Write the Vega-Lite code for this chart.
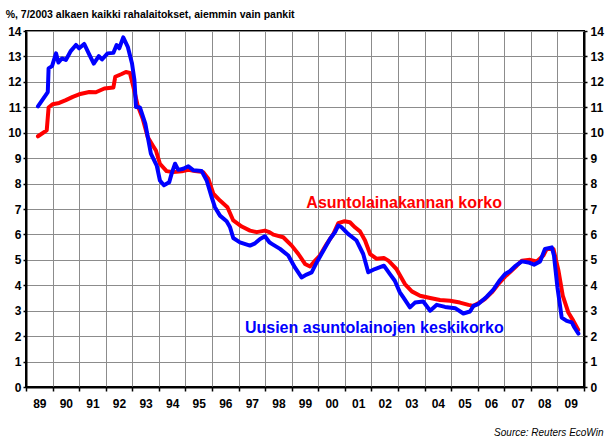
{
  "$schema": "https://vega.github.io/schema/vega-lite/v6.json",
  "width": 558,
  "height": 356,
  "autosize": "none",
  "padding": {"left": 26, "top": 31, "right": 22, "bottom": 49},
  "background": "white",
  "title": {"text": "%, 7/2003 alkaen kaikki rahalaitokset, aiemmin vain pankit", "anchor": "start", "fontSize": 10.5, "fontWeight": "bold", "font": "Liberation Sans", "color": "black", "offset": 5, "dx": -2},
  "config": {
    "font": "Liberation Sans",
    "view": {"stroke": "black", "strokeWidth": 2},
    "axis": {"domainColor": "black", "domainWidth": 2, "tickColor": "black", "tickWidth": 1.5, "labelFont": "Liberation Sans", "labelFontWeight": "bold", "labelFontSize": 12, "labelColor": "black", "gridColor": "#8c8c8c", "gridWidth": 1, "gridOpacity": 1}
  },
  "datasets": {
    "stock": [
      {"t":1989.45,"v":9.86},{"t":1989.78,"v":10.09},{"t":1989.85,"v":10.99},{"t":1990.0,"v":11.12},{"t":1990.25,"v":11.17},{"t":1990.5,"v":11.28},{"t":1990.76,"v":11.41},{"t":1991.0,"v":11.51},{"t":1991.38,"v":11.60},{"t":1991.63,"v":11.59},{"t":1991.95,"v":11.74},{"t":1992.29,"v":11.78},{"t":1992.36,"v":12.20},{"t":1992.58,"v":12.30},{"t":1992.76,"v":12.39},{"t":1992.91,"v":12.35},{"t":1993.04,"v":11.81},{"t":1993.2,"v":11.08},{"t":1993.39,"v":10.56},{"t":1993.58,"v":9.83},{"t":1993.77,"v":9.50},{"t":1993.89,"v":9.30},{"t":1994.04,"v":8.78},{"t":1994.29,"v":8.49},{"t":1994.54,"v":8.45},{"t":1994.86,"v":8.48},{"t":1995.11,"v":8.54},{"t":1995.36,"v":8.49},{"t":1995.67,"v":8.45},{"t":1995.86,"v":8.19},{"t":1996.05,"v":7.60},{"t":1996.3,"v":7.33},{"t":1996.58,"v":7.07},{"t":1996.8,"v":6.55},{"t":1997.12,"v":6.31},{"t":1997.43,"v":6.15},{"t":1997.68,"v":6.09},{"t":1997.99,"v":6.15},{"t":1998.16,"v":6.09},{"t":1998.31,"v":5.99},{"t":1998.68,"v":5.89},{"t":1999.0,"v":5.56},{"t":1999.25,"v":5.23},{"t":1999.5,"v":4.84},{"t":1999.69,"v":4.74},{"t":1999.88,"v":4.97},{"t":2000.06,"v":5.17},{"t":2000.32,"v":5.63},{"t":2000.57,"v":6.02},{"t":2000.75,"v":6.44},{"t":2000.99,"v":6.52},{"t":2001.19,"v":6.48},{"t":2001.38,"v":6.28},{"t":2001.57,"v":6.12},{"t":2001.76,"v":5.76},{"t":2001.95,"v":5.23},{"t":2002.2,"v":5.04},{"t":2002.47,"v":5.07},{"t":2002.64,"v":4.97},{"t":2002.82,"v":4.77},{"t":2002.94,"v":4.64},{"t":2003.26,"v":4.05},{"t":2003.52,"v":3.76},{"t":2003.83,"v":3.59},{"t":2004.21,"v":3.50},{"t":2004.58,"v":3.42},{"t":2004.96,"v":3.39},{"t":2005.33,"v":3.32},{"t":2005.65,"v":3.23},{"t":2005.84,"v":3.19},{"t":2006.02,"v":3.29},{"t":2006.27,"v":3.46},{"t":2006.53,"v":3.72},{"t":2006.78,"v":4.05},{"t":2007.03,"v":4.34},{"t":2007.21,"v":4.51},{"t":2007.47,"v":4.77},{"t":2007.66,"v":4.97},{"t":2007.97,"v":5.00},{"t":2008.22,"v":4.94},{"t":2008.47,"v":5.17},{"t":2008.6,"v":5.43},{"t":2008.85,"v":5.43},{"t":2009.04,"v":4.57},{"t":2009.2,"v":3.59},{"t":2009.41,"v":2.93},{"t":2009.6,"v":2.60},{"t":2009.78,"v":2.25}
    ],
    "new": [
      {"t":1989.45,"v":11.04},{"t":1989.82,"v":11.60},{"t":1989.85,"v":12.53},{"t":1989.98,"v":12.62},{"t":1990.13,"v":13.12},{"t":1990.22,"v":12.76},{"t":1990.35,"v":12.92},{"t":1990.5,"v":12.86},{"t":1990.69,"v":13.22},{"t":1990.88,"v":13.45},{"t":1991.0,"v":13.32},{"t":1991.19,"v":13.49},{"t":1991.36,"v":13.12},{"t":1991.55,"v":12.72},{"t":1991.74,"v":13.01},{"t":1991.86,"v":12.88},{"t":1992.07,"v":13.12},{"t":1992.29,"v":13.14},{"t":1992.41,"v":13.45},{"t":1992.51,"v":13.32},{"t":1992.66,"v":13.75},{"t":1992.83,"v":13.38},{"t":1992.99,"v":12.72},{"t":1993.08,"v":12.07},{"t":1993.14,"v":11.01},{"t":1993.29,"v":10.99},{"t":1993.49,"v":10.36},{"t":1993.7,"v":9.18},{"t":1993.92,"v":8.71},{"t":1994.04,"v":8.12},{"t":1994.19,"v":7.93},{"t":1994.39,"v":8.05},{"t":1994.48,"v":8.39},{"t":1994.61,"v":8.78},{"t":1994.73,"v":8.54},{"t":1994.92,"v":8.58},{"t":1995.11,"v":8.68},{"t":1995.3,"v":8.52},{"t":1995.61,"v":8.49},{"t":1995.8,"v":8.12},{"t":1995.99,"v":7.46},{"t":1996.11,"v":7.07},{"t":1996.3,"v":6.74},{"t":1996.55,"v":6.52},{"t":1996.68,"v":6.28},{"t":1996.8,"v":5.86},{"t":1997.05,"v":5.69},{"t":1997.43,"v":5.56},{"t":1997.62,"v":5.65},{"t":1997.81,"v":5.82},{"t":1997.99,"v":5.93},{"t":1998.16,"v":5.69},{"t":1998.25,"v":5.63},{"t":1998.56,"v":5.43},{"t":1998.87,"v":5.17},{"t":1999.12,"v":4.70},{"t":1999.37,"v":4.31},{"t":1999.56,"v":4.42},{"t":1999.75,"v":4.51},{"t":1999.94,"v":4.90},{"t":2000.19,"v":5.36},{"t":2000.44,"v":5.82},{"t":2000.63,"v":6.09},{"t":2000.75,"v":6.35},{"t":2000.88,"v":6.28},{"t":2001.12,"v":6.02},{"t":2001.44,"v":5.76},{"t":2001.69,"v":5.23},{"t":2001.88,"v":4.51},{"t":2002.13,"v":4.64},{"t":2002.47,"v":4.77},{"t":2002.69,"v":4.45},{"t":2002.88,"v":4.18},{"t":2003.07,"v":3.72},{"t":2003.2,"v":3.52},{"t":2003.45,"v":3.13},{"t":2003.64,"v":3.32},{"t":2003.95,"v":3.36},{"t":2004.21,"v":3.00},{"t":2004.46,"v":3.23},{"t":2004.77,"v":3.15},{"t":2005.15,"v":3.10},{"t":2005.46,"v":2.89},{"t":2005.71,"v":2.97},{"t":2005.84,"v":3.19},{"t":2006.02,"v":3.26},{"t":2006.34,"v":3.55},{"t":2006.59,"v":3.83},{"t":2006.84,"v":4.21},{"t":2007.03,"v":4.44},{"t":2007.21,"v":4.55},{"t":2007.4,"v":4.74},{"t":2007.66,"v":4.94},{"t":2007.91,"v":4.90},{"t":2008.12,"v":4.81},{"t":2008.35,"v":4.94},{"t":2008.53,"v":5.43},{"t":2008.79,"v":5.49},{"t":2008.87,"v":5.17},{"t":2009.0,"v":3.92},{"t":2009.16,"v":2.73},{"t":2009.35,"v":2.60},{"t":2009.54,"v":2.54},{"t":2009.64,"v":2.34},{"t":2009.79,"v":2.10}
    ],
    "labels": [
      {"t":1999.55,"v":7.02,"label":"Asuntolainakannan korko","series":"stock"},
      {"t":1997.24,"v":2.13,"label":"Uusien asuntolainojen keskikorko","series":"new"}
    ]
  },
  "encoding": {
    "x": {
      "field": "t", "type": "quantitative",
      "scale": {"domain": [1989, 2010], "nice": false, "zero": false},
      "axis": {
        "values": [1989,1990,1991,1992,1993,1994,1995,1996,1997,1998,1999,2000,2001,2002,2003,2004,2005,2006,2007,2008,2009,2010],
        "labelExpr": "datum.value < 2010 ? substring(toString(datum.value), 2) : ''",
        "labelOffset": 13.3, "labelOverlap": false, "labelBound": false, "labelFlush": false,
        "tickSize": 4, "labelPadding": 7, "grid": true,
        "title": "Source: Reuters EcoWin", "titleFontStyle": "italic", "titleFontWeight": "normal", "titleFontSize": 10, "titleColor": "black", "titleFont": "Liberation Sans",
        "titleAlign": "right", "titleAnchor": "end", "titleX": 577, "titleY": 48, "titleBaseline": "alphabetic"
      }
    }
  },
  "layer": [
    {
      "data": {"name": "stock"},
      "mark": {"type": "line", "color": "#ff0000", "strokeWidth": 4, "strokeJoin": "round", "strokeCap": "round"},
      "encoding": {
        "y": {"field": "v", "type": "quantitative", "scale": {"domain": [0, 14], "nice": false},
          "axis": {"orient": "left", "values": [0,1,2,3,4,5,6,7,8,9,10,11,12,13,14], "tickSize": 3, "labelPadding": 2, "grid": true, "title": null}}
      }
    },
    {
      "data": {"name": "new"},
      "mark": {"type": "line", "color": "#0000ff", "strokeWidth": 4, "strokeJoin": "round", "strokeCap": "round"},
      "encoding": {
        "y": {"field": "v", "type": "quantitative", "scale": {"domain": [0, 14], "nice": false},
          "axis": {"orient": "right", "values": [0,1,2,3,4,5,6,7,8,9,10,11,12,13,14], "tickSize": 3, "labelPadding": 3, "grid": false, "title": null}}
      }
    },
    {
      "data": {"name": "labels"},
      "mark": {"type": "text", "align": "left", "baseline": "alphabetic", "fontSize": 16, "fontWeight": "bold", "font": "Liberation Sans"},
      "encoding": {
        "y": {"field": "v", "type": "quantitative", "scale": {"domain": [0, 14], "nice": false}, "axis": null},
        "text": {"field": "label"},
        "color": {"field": "series", "type": "nominal", "scale": {"domain": ["stock", "new"], "range": ["#ff0000", "#0000ff"]}, "legend": null}
      }
    }
  ],
  "resolve": {"axis": {"y": "independent"}}
}
